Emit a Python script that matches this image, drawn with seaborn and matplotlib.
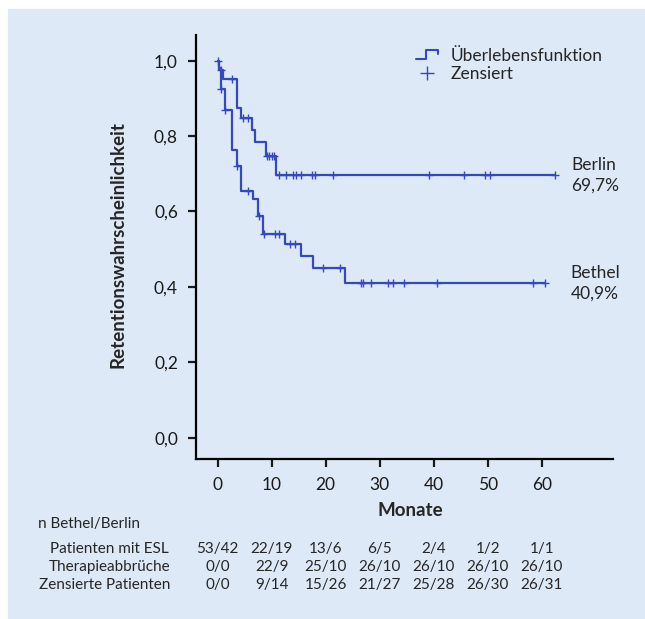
import matplotlib
matplotlib.use("Agg")
import matplotlib.pyplot as plt
import matplotlib.transforms as mtransforms
from matplotlib.legend_handler import HandlerBase
from matplotlib.lines import Line2D
from matplotlib.patches import Rectangle
import numpy as np
import pandas as pd
import seaborn as sns

# Kaplan-Meier step values
berlin_t = [0, 0.3, 1.0, 3.5, 4.4, 6.4, 6.9, 8.9, 10.8, 62.5]
berlin_s = [1.0, 0.976, 0.952, 0.874, 0.847, 0.816, 0.783, 0.747, 0.697, 0.697]
berlin_cens = [0.55, 2.6, 4.7, 5.7, 9.2, 9.6, 10.0, 10.4, 11.35, 12.6, 13.9,
               14.6, 15.4, 17.4, 18.0, 21.4, 39.2, 45.7, 49.5, 50.4, 62.5]

bethel_t = [0, 0.2, 0.55, 1.35, 2.6, 3.5, 4.4, 6.6, 7.5, 8.45, 12.5, 15.4,
            17.6, 23.6, 60.6]
bethel_s = [1.0, 0.981, 0.925, 0.869, 0.763, 0.721, 0.655, 0.632, 0.588,
            0.540, 0.514, 0.482, 0.451, 0.409, 0.409]
bethel_cens = [0.0, 0.6, 1.4, 3.6, 5.7, 7.6, 8.5, 10.6, 11.4, 13.4, 14.3,
               19.6, 22.6, 26.5, 27.0, 28.4, 31.6, 32.5, 34.5, 40.6, 58.4, 60.6]

end_labels = ["Berlin\n69,7%", "Bethel\n40,9%"]

x_ticks = [0, 10, 20, 30, 40, 50, 60]
y_ticks = [0.0, 0.2, 0.4, 0.6, 0.8, 1.0]

row_names = ["Patienten mit ESL", "Therapieabbrüche", "Zensierte Patienten"]
row_patients = ["53/42", "22/19", "13/6", "6/5", "2/4", "1/2", "1/1"]
row_abbruch = ["0/0", "22/9", "25/10", "26/10", "26/10", "26/10", "26/10"]
row_zensiert = ["0/0", "9/14", "15/26", "21/27", "25/28", "26/30", "26/31"]

BLUE = "#3549bf"
BG = "#dde9f7"


def level_at(times, ts, ss):
    idx = np.searchsorted(ts, times, side="right") - 1
    return np.asarray(ss)[np.clip(idx, 0, len(ss) - 1)]


class StepHandler(HandlerBase):
    def create_artists(self, legend, orig_handle, xdescent, ydescent,
                       width, height, fontsize, trans):
        xs = np.array([0, 0.45, 0.45, 1.0, 1.0]) * width - xdescent
        ys = np.array([0.15, 0.15, 0.85, 0.85, 0.55]) * height - ydescent
        line = Line2D(xs, ys, color=BLUE, lw=1.5)
        line.set_transform(trans)
        return [line]


sns.set_style("ticks")
plt.rcParams["font.family"] = ["Lato", "DejaVu Sans"]

fig = plt.figure(figsize=(6.45, 6.19), dpi=100)
fig.patches.append(Rectangle((8 / 645, 0), 1, 1 - 9 / 619,
                             transform=fig.transFigure, color=BG, zorder=-10))
ax = fig.add_axes([196 / 645, 1 - 459 / 619, (613 - 196) / 645, (459 - 35) / 619])
ax.set_facecolor("none")

df_b = pd.DataFrame({"t": berlin_t, "s": berlin_s})
df_e = pd.DataFrame({"t": bethel_t, "s": bethel_s})
sns.lineplot(data=df_b, x="t", y="s", drawstyle="steps-post", color=BLUE,
             lw=1.6, ax=ax)
sns.lineplot(data=df_e, x="t", y="s", drawstyle="steps-post", color=BLUE,
             lw=1.6, ax=ax)

cb = pd.DataFrame({"t": berlin_cens,
                   "s": level_at(berlin_cens, berlin_t, berlin_s)})
ce = pd.DataFrame({"t": bethel_cens,
                   "s": level_at(bethel_cens, bethel_t, bethel_s)})
for c in (cb, ce):
    sns.scatterplot(data=c, x="t", y="s", marker="+", s=40, color=BLUE,
                    linewidth=1.0, ax=ax, zorder=3)

ax.set_xlim(-4.0, 73.2)
ax.set_ylim(-0.0565, 1.068)
ax.set_xticks(x_ticks)
ax.set_yticks(y_ticks)
ax.set_yticklabels([f"{v:.1f}".replace(".", ",") for v in y_ticks])
ax.tick_params(axis="both", direction="out", length=6, width=1.6,
               labelsize=12.5, colors="#1a1a1a", pad=7)
for side in ("top", "right"):
    ax.spines[side].set_visible(False)
for side in ("left", "bottom"):
    ax.spines[side].set_linewidth(1.6)
    ax.spines[side].set_color("black")

ax.set_xlabel("")
ax.set_ylabel("")
fig.text(118 / 645, 1 - 245 / 619, "Retentionswahrscheinlichkeit",
         rotation=90, ha="center", va="center", fontsize=13.5,
         fontweight="bold")
fig.text(410 / 645, 1 - 511 / 619, "Monate", ha="center", va="center",
         fontsize=13.5, fontweight="bold")

# end-of-curve labels
ax.text(65.5, 0.697, end_labels[0], ha="left", va="center", fontsize=12.5,
        linespacing=1.35)
ax.text(65.3, 0.409, end_labels[1], ha="left", va="center", fontsize=12.5,
        linespacing=1.35)

handles = [Line2D([], [], color=BLUE),
           Line2D([], [], color=BLUE, marker="+", ls="none", markersize=10)]
fig.legend(handles, ["Überlebensfunktion", "Zensiert"],
           handler_map={handles[0]: StepHandler()},
           loc="upper left", bbox_to_anchor=(407 / 645, 1 - 39 / 619),
           frameon=False, fontsize=12.5, handlelength=1.3, handletextpad=0.7,
           labelspacing=0.15, borderpad=0)

# number-at-risk table
trans = mtransforms.blended_transform_factory(ax.transData, fig.transFigure)
fig.text(38 / 645, 1 - 524 / 619, "n Bethel/Berlin", ha="left", va="center",
         fontsize=11)
row_y = [549, 567, 585]
row_x = [50, 49, 39]
rows = [row_patients, row_abbruch, row_zensiert]
for name, rx, ry, vals in zip(row_names, row_x, row_y, rows):
    fig.text(rx / 645, 1 - ry / 619, name, ha="left", va="center",
             fontsize=11)
    for xv, v in zip(x_ticks, vals):
        ax.text(xv, 1 - ry / 619, v, transform=trans, ha="center",
                va="center", fontsize=11)

fig.savefig("out.png", dpi=100, facecolor="white")
